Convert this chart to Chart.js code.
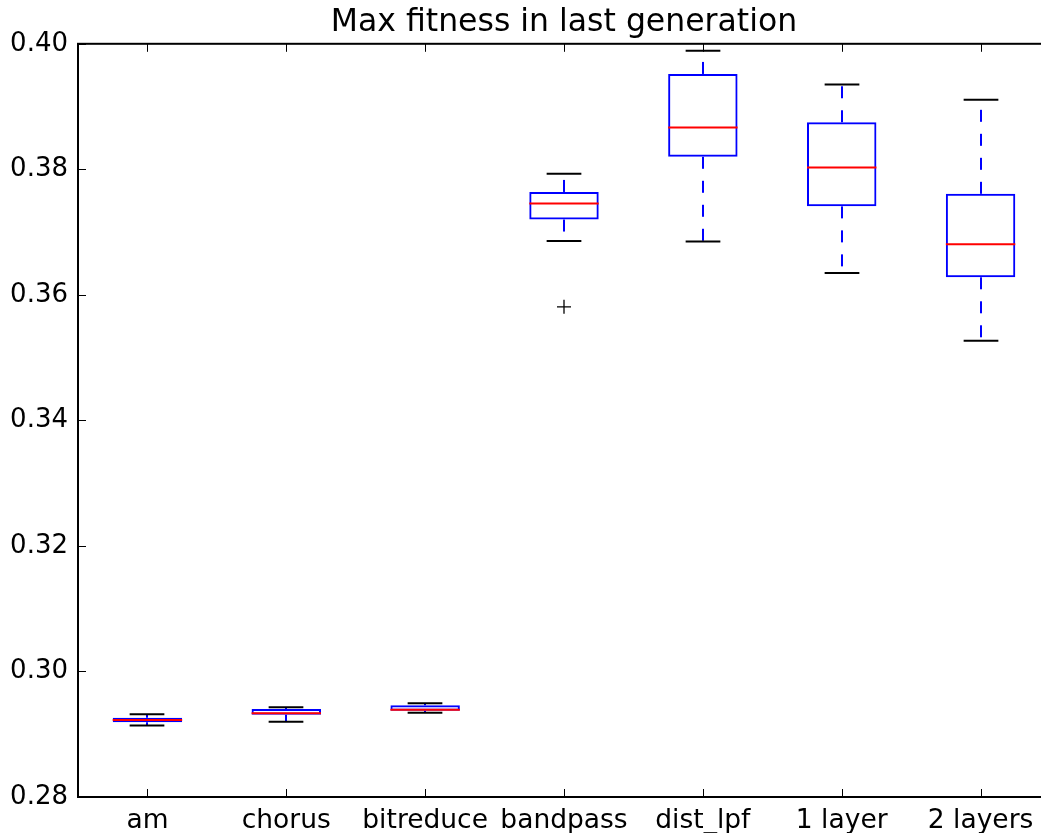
<!DOCTYPE html>
<html>
<head>
<meta charset="utf-8">
<script src="https://cdn.jsdelivr.net/npm/chart.js@4.4.0/dist/chart.umd.min.js"></script>
<style>
  html, body { margin: 0; padding: 0; background: #fff; overflow: hidden; }
  #wrap { width: 1041px; height: 833px; overflow: hidden; }
</style>
</head>
<body>
<div id="wrap"><canvas id="box-chart" width="1128" height="833"></canvas></div>
<script>
// Dữ liệu
const categories = ["am", "chorus", "bitreduce", "bandpass", "dist_lpf", "1 layer", "2 layers"];
const whiskerLow = [0.2914, 0.2920, 0.29343, 0.3686, 0.3685, 0.3635, 0.3527];
const q1 = [0.2919, 0.29312, 0.29375, 0.3720, 0.3820, 0.3741, 0.3628];
const medians = [0.29227, 0.29334, 0.29391, 0.37455, 0.38666, 0.38029, 0.36808];
const q3 = [0.29264, 0.29402, 0.29461, 0.3764, 0.3952, 0.3875, 0.3761];
const whiskerHigh = [0.2932, 0.29429, 0.29493, 0.3793, 0.3989, 0.3935, 0.3911];
const outliers = [null, null, null, 0.3581, null, null, null];
const yTicks = [0.28, 0.30, 0.32, 0.34, 0.36, 0.38, 0.40];

const FONT = "'DejaVu Sans', sans-serif";

// Vẽ trung vị, râu, mũ râu, khung trục và vạch chia
const boxExtras = {
  id: "boxExtras",
  afterDatasetsDraw(chart) {
    const ctx = chart.ctx;
    const y = chart.scales.y;
    const x = chart.scales.x;
    const area = chart.chartArea;
    const bars = chart.getDatasetMeta(0).data;

    ctx.save();
    bars.forEach(function (bar, i) {
      const cx = Math.round(bar.x);
      const half = bar.width / 2;
      const capHalf = half / 2;

      // râu nét đứt
      ctx.strokeStyle = "#0000ff";
      ctx.lineWidth = 2;
      ctx.setLineDash([12, 12]);
      ctx.beginPath();
      ctx.moveTo(cx, y.getPixelForValue(q1[i]));
      ctx.lineTo(cx, y.getPixelForValue(whiskerLow[i]));
      ctx.stroke();
      ctx.beginPath();
      ctx.moveTo(cx, y.getPixelForValue(q3[i]));
      ctx.lineTo(cx, y.getPixelForValue(whiskerHigh[i]));
      ctx.stroke();
      ctx.setLineDash([]);

      // mũ râu
      ctx.strokeStyle = "#000";
      [whiskerLow[i], whiskerHigh[i]].forEach(function (v) {
        const py = y.getPixelForValue(v);
        ctx.beginPath();
        ctx.moveTo(cx - capHalf, py);
        ctx.lineTo(cx + capHalf, py);
        ctx.stroke();
      });

      // trung vị
      ctx.strokeStyle = "#ff0000";
      const my = y.getPixelForValue(medians[i]);
      ctx.beginPath();
      ctx.moveTo(bar.x - half, my);
      ctx.lineTo(bar.x + half, my);
      ctx.stroke();
    });

    // khung
    ctx.strokeStyle = "#000";
    ctx.lineWidth = 2;
    ctx.strokeRect(area.left, area.top, area.right - area.left, area.bottom - area.top);

    // vạch chia hướng vào trong
    ctx.lineWidth = 1;
    y.ticks.forEach(function (t) {
      const py = Math.round(y.getPixelForValue(t.value)) + 0.5;
      ctx.beginPath();
      ctx.moveTo(area.left, py);
      ctx.lineTo(area.left + 8, py);
      ctx.moveTo(area.right, py);
      ctx.lineTo(area.right - 8, py);
      ctx.stroke();
    });
    categories.forEach(function (c, i) {
      const px = Math.round(x.getPixelForValue(i)) + 0.5;
      ctx.beginPath();
      ctx.moveTo(px, area.bottom);
      ctx.lineTo(px, area.bottom - 8);
      ctx.moveTo(px, area.top);
      ctx.lineTo(px, area.top + 8);
      ctx.stroke();
    });
    ctx.restore();
  },
};

const ctx = document.getElementById("box-chart").getContext("2d");
new Chart(ctx, {
  type: "bar",
  data: {
    labels: categories,
    datasets: [
      {
        label: "box",
        data: q1.map(function (v, i) { return [v, q3[i]]; }),
        backgroundColor: "rgba(255,255,255,0)",
        borderColor: "#0000ff",
        borderWidth: 2,
        borderSkipped: false,
        barPercentage: 0.5,
        categoryPercentage: 1.0,
      },
      {
        type: "line",
        label: "outliers",
        data: outliers,
        showLine: false,
        pointStyle: "cross",
        pointRadius: 7,
        pointBorderColor: "#000",
        pointBackgroundColor: "#000",
        pointBorderWidth: 1.3,
      },
    ],
  },
  options: {
    responsive: false,
    animation: false,
    devicePixelRatio: 1,
    layout: { padding: 0 },
    plugins: {
      legend: { display: false },
      tooltip: { enabled: false },
      title: {
        display: true,
        text: "Max fitness in last generation",
        color: "#000",
        font: { family: FONT, size: 31.5, weight: "normal" },
        padding: { top: 4, bottom: 2 },
      },
    },
    scales: {
      x: {
        grid: { display: false, drawTicks: false },
        border: { display: false },
        ticks: { color: "#000", font: { family: FONT, size: 26.5 }, padding: 8, maxRotation: 0 },
        afterFit: function (s) { s.height = 36; s.paddingLeft = 0; s.paddingRight = 0; },
      },
      y: {
        min: 0.28,
        max: 0.40,
        grid: { display: false, drawTicks: false },
        border: { display: false },
        afterBuildTicks: function (s) { s.ticks = yTicks.map(function (v) { return { value: v }; }); },
        ticks: {
          color: "#000",
          font: { family: FONT, size: 26 },
          padding: 10,
          callback: function (v) { return Number(v).toFixed(2); },
        },
        afterFit: function (s) { s.width = 78; },
      },
      // trục phải trống, chỉ để giữ vùng vẽ đối xứng (phần này nằm ngoài cửa sổ)
      yRight: {
        position: "right",
        min: 0.28,
        max: 0.40,
        grid: { display: false, drawTicks: false },
        border: { display: false },
        ticks: { display: false },
        afterFit: function (s) { s.width = 78; },
      },
    },
  },
  plugins: [boxExtras],
});
</script>
</body>
</html>
